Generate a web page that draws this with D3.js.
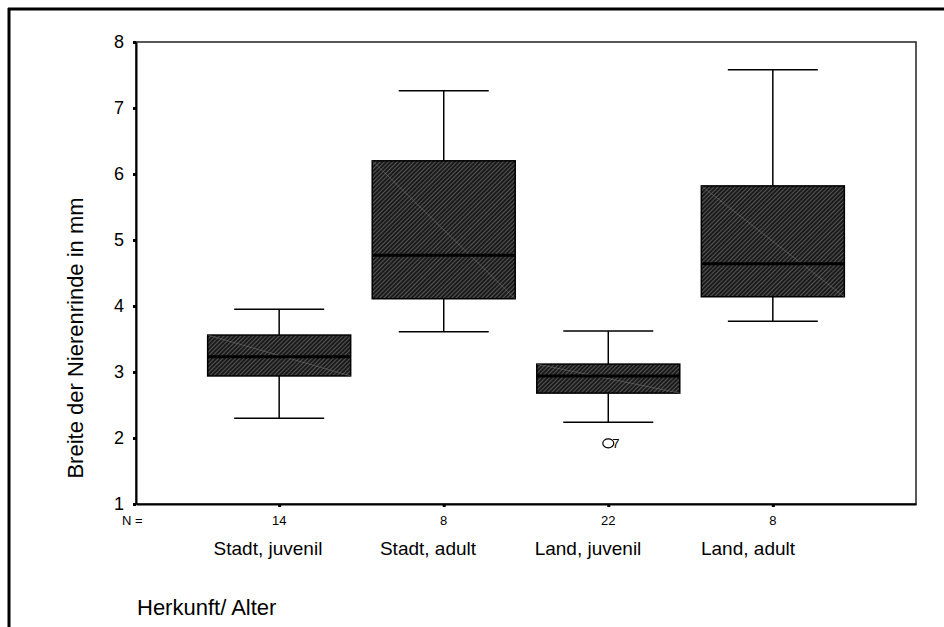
<!DOCTYPE html>
<html>
<head>
<meta charset="utf-8">
<script src="https://cdn.jsdelivr.net/npm/d3@7"></script>
<style>
  html, body { margin: 0; padding: 0; background: #fff; }
  svg { display: block; font-family: "Liberation Sans", Arial, sans-serif; }
</style>
</head>
<body>
<svg id="chart" width="944" height="627"></svg>
<script>
// Kidney cortex width by origin / age group
const categories = ["Stadt, juvenil", "Stadt, adult", "Land, juvenil", "Land, adult"];
const counts     = [14, 8, 22, 8];
const whiskerLow = [2.30, 3.61, 2.24, 3.77];
const q1         = [2.94, 4.11, 2.68, 4.14];
const median     = [3.23, 4.77, 2.94, 4.64];
const q3         = [3.56, 6.20, 3.12, 5.82];
const whiskerHigh= [3.95, 7.26, 3.62, 7.58];
const outliers   = [{ group: "Land, juvenil", value: 1.92, label: "7" }];
const yTicks     = [1, 2, 3, 4, 5, 6, 7, 8];
const yTitle     = "Breite der Nierenrinde in mm";
const xTitle     = "Herkunft/ Alter";

const svg = d3.select("#chart");
const plot = { left: 136, top: 42, right: 916, bottom: 504 };

const y = d3.scaleLinear().domain([1, 8]).range([plot.bottom, plot.top]);
const x = d3.scalePoint().domain(categories).range([plot.left, plot.right]).padding(0.87);
const xLabel = d3.scalePoint().domain(categories).range([108, 908]).padding(1);
const boxW = 143, capW = 90;

// hatch pattern for the boxes
const defs = svg.append("defs");
const pat = defs.append("pattern")
  .attr("id", "hatch").attr("patternUnits", "userSpaceOnUse")
  .attr("width", 3).attr("height", 3)
  .attr("patternTransform", "rotate(45)");
pat.append("rect").attr("width", 3).attr("height", 3).attr("fill", "#1a1a1a");
pat.append("rect").attr("width", 1).attr("height", 3).attr("fill", "#555");

// outer page frame (top and left edges)
svg.append("line").attr("x1", 8).attr("y1", 9).attr("x2", 944).attr("y2", 9)
  .attr("stroke", "#000").attr("stroke-width", 3);
svg.append("line").attr("x1", 9).attr("y1", 8).attr("x2", 9).attr("y2", 627)
  .attr("stroke", "#000").attr("stroke-width", 3);

// plot frame
svg.append("rect")
  .attr("x", plot.left).attr("y", plot.top)
  .attr("width", plot.right - plot.left).attr("height", plot.bottom - plot.top)
  .attr("fill", "none").attr("stroke", "#222").attr("stroke-width", 1.5);

// y axis
const yAxis = d3.axisLeft(y).tickValues(yTicks).tickSize(0).tickPadding(12).tickFormat(d3.format("d"));
const gy = svg.append("g").attr("transform", `translate(${plot.left},0)`).call(yAxis);
gy.select(".domain").attr("stroke", "#000").attr("stroke-width", 2);
gy.selectAll(".tick text").attr("font-size", 18).attr("fill", "#000")
  .attr("font-family", "Liberation Sans, Arial, sans-serif");
gy.selectAll(".tick").append("rect")
  .attr("x", -3).attr("y", -1.5).attr("width", 3).attr("height", 3).attr("fill", "#000");

// x axis baseline with category markers
const xAxis = d3.axisBottom(x).tickSize(0).tickFormat("");
const gx = svg.append("g").attr("transform", `translate(0,${plot.bottom})`).call(xAxis);
gx.select(".domain").attr("stroke", "#000").attr("stroke-width", 2);
gx.selectAll(".tick").append("rect")
  .attr("x", -1.5).attr("y", 0).attr("width", 3).attr("height", 3).attr("fill", "#000");

// boxes
const groups = svg.append("g").selectAll("g").data(categories).join("g")
  .attr("transform", d => `translate(${x(d)},0)`);

groups.append("line")
  .attr("x1", 0).attr("x2", 0)
  .attr("y1", (d, i) => y(whiskerHigh[i])).attr("y2", (d, i) => y(q3[i]))
  .attr("stroke", "#000").attr("stroke-width", 1.5);
groups.append("line")
  .attr("x1", 0).attr("x2", 0)
  .attr("y1", (d, i) => y(q1[i])).attr("y2", (d, i) => y(whiskerLow[i]))
  .attr("stroke", "#000").attr("stroke-width", 1.5);
groups.append("line")
  .attr("x1", -capW / 2).attr("x2", capW / 2)
  .attr("y1", (d, i) => y(whiskerHigh[i])).attr("y2", (d, i) => y(whiskerHigh[i]))
  .attr("stroke", "#000").attr("stroke-width", 1.5);
groups.append("line")
  .attr("x1", -capW / 2).attr("x2", capW / 2)
  .attr("y1", (d, i) => y(whiskerLow[i])).attr("y2", (d, i) => y(whiskerLow[i]))
  .attr("stroke", "#000").attr("stroke-width", 1.5);

groups.append("rect")
  .attr("x", -boxW / 2).attr("width", boxW)
  .attr("y", (d, i) => y(q3[i])).attr("height", (d, i) => y(q1[i]) - y(q3[i]))
  .attr("fill", "url(#hatch)").attr("stroke", "#000").attr("stroke-width", 1.5);

// faint diagonal sheen across each box
groups.append("line")
  .attr("x1", -boxW / 2).attr("x2", boxW / 2)
  .attr("y1", (d, i) => y(q3[i])).attr("y2", (d, i) => y(q1[i]))
  .attr("stroke", "#777").attr("stroke-width", 1).attr("opacity", 0.5);

groups.append("line")
  .attr("x1", -boxW / 2).attr("x2", boxW / 2)
  .attr("y1", (d, i) => y(median[i])).attr("y2", (d, i) => y(median[i]))
  .attr("stroke", "#000").attr("stroke-width", 3);

// outliers
const og = svg.append("g").selectAll("g").data(outliers).join("g")
  .attr("transform", d => `translate(${x(d.group)},${y(d.value)})`);
og.append("ellipse").attr("cx", 0).attr("cy", 0).attr("rx", 5.5).attr("ry", 4.5)
  .attr("fill", "none").attr("stroke", "#000").attr("stroke-width", 1.2);
og.append("text").attr("x", 4).attr("y", 4.5).attr("font-size", 13).text(d => d.label);

// sample sizes
svg.append("text").attr("x", 122).attr("y", 525).attr("font-size", 13).text("N =");
svg.append("g").selectAll("text").data(categories).join("text")
  .attr("x", d => x(d)).attr("y", 525).attr("text-anchor", "middle")
  .attr("font-size", 13).text((d, i) => counts[i]);

// category labels
svg.append("g").selectAll("text").data(categories).join("text")
  .attr("x", d => xLabel(d)).attr("y", 555).attr("text-anchor", "middle")
  .attr("font-size", 19).text(d => d);

// axis titles
svg.append("text").attr("x", 137).attr("y", 615).attr("font-size", 22).text(xTitle);
svg.append("text")
  .attr("transform", `translate(83,338) rotate(-90)`)
  .attr("text-anchor", "middle").attr("font-size", 22).text(yTitle);
</script>
</body>
</html>
